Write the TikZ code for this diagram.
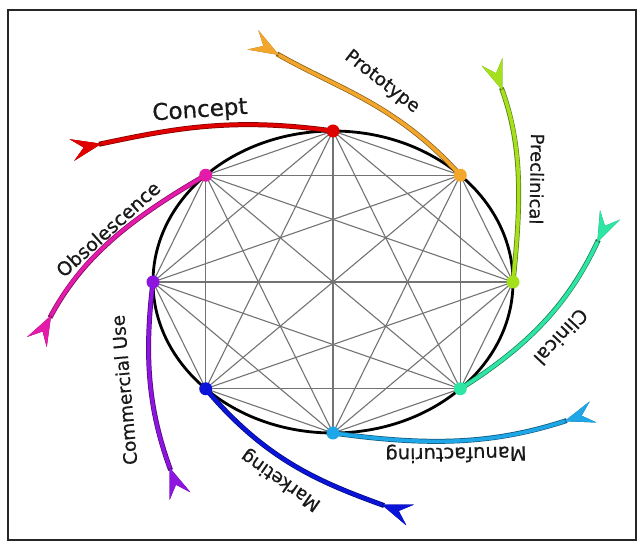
\documentclass[tikz,border=0pt]{standalone}
\usepackage{fontspec}
\setmainfont{DejaVu Sans}
\newfontfamily\labfont{DejaVu Sans}[FakeBold=0.6]
\usetikzlibrary{arrows.meta}
\definecolor{cConcept}{HTML}{E00000}
\definecolor{cProto}{HTML}{F2A72C}
\definecolor{cPre}{HTML}{A4E01C}
\definecolor{cClin}{HTML}{2EE6A4}
\definecolor{cManu}{HTML}{1EA6E6}
\definecolor{cMark}{HTML}{0A14D8}
\definecolor{cComm}{HTML}{8E14E0}
\definecolor{cObso}{HTML}{E41AAA}
\tikzset{
  chord/.style={draw=black!55, line width=1.1pt},
  ring/.style={draw=black, line width=2.8pt},
  stagedot/.style={circle, inner sep=0pt, minimum size=13pt},
  lab/.style={inner sep=0pt, text=black!90},
  fs/.style={font=\labfont\fontsize{#1}{#1}\selectfont},
  frame/.style={draw=black!85, line width=1.6pt},
}
\begin{document}
\begin{tikzpicture}[x=1pt,y=1pt]
\useasboundingbox (0,0) rectangle (643,544);
\fill[white] (0,0) rectangle (643,544);
\draw[frame] (8,4) rectangle (636,534);
\coordinate (O) at (333,262);
\foreach \a in {0,...,7}{
  \coordinate (p\a) at ([shift={(O)}]\a*45:180 and 151);
}
\foreach \i in {0,...,7}{
  \foreach \j in {0,...,7}{
    \ifnum\i<\j \draw[chord] (p\i) -- (p\j); \fi
  }
}
\draw[ring] (O) ellipse [x radius=180, y radius=151];
% free ends
\coordinate (eConcept) at (72,394);
\coordinate (eProto) at (253,504);
\coordinate (ePre) at (492,482);
\coordinate (eClin) at (610,329);
\coordinate (eManu) at (593,132);
\coordinate (eMark) at (410,29);
\coordinate (eComm) at (180,48);
\coordinate (eObso) at (37,202);
\foreach \s/\e/\o/\i/\c in {p2/eConcept/172/12/cConcept, p1/eProto/132/-30/cProto, p0/ePre/84/-70/cPre, p7/eClin/32/-115/cClin, p6/eManu/-8/198/cManu, p5/eMark/-50/160/cMark, p4/eComm/-97/110/cComm, p3/eObso/210/62/cObso}{
  \draw[line width=5pt, \c!55!black, -{Stealth[reversed,length=30pt,width=22pt,inset=12pt,line width=1.4pt]}] (\s) to[out=\o,in=\i] (\e);
  \draw[line width=3.6pt, \c, -{Stealth[reversed,length=30pt,width=22pt,inset=12pt,line width=0.2pt]}] (\s) to[out=\o,in=\i] (\e);
}
\node[stagedot, fill=cPre] (dPre) at (p0) {};
\node[stagedot, fill=cProto] (dProto) at (p1) {};
\node[stagedot, fill=cConcept] (dConcept) at (p2) {};
\node[stagedot, fill=cObso] (dObso) at (p3) {};
\node[stagedot, fill=cComm] (dComm) at (p4) {};
\node[stagedot, fill=cMark] (dMark) at (p5) {};
\node[stagedot, fill=cManu] (dManu) at (p6) {};
\node[stagedot, fill=cClin] (dClin) at (p7) {};
\node[lab, fs=23, rotate=4] (tConcept) at (200,433) {Concept};
\node[lab, fs=18.5, rotate=-38] (tProto) at (382,462) {Prototype};
\node[lab, fs=18, rotate=-91] (tPre) at (537,365) {Preclinical};
\node[lab, fs=19, rotate=-133] (tClin) at (561,207) {Clinical};
\node[lab, fs=19.5, rotate=181] (tManu) at (456,91) {Manufacturing};
\node[lab, fs=18.5, rotate=145] (tMark) at (281,64) {Marketing};
\node[lab, fs=18.4, rotate=95] (tComm) at (124,154) {Commercial Use};
\node[lab, fs=19, rotate=42] (tObso) at (108,315) {Obsolescence};
\end{tikzpicture}
\end{document}
